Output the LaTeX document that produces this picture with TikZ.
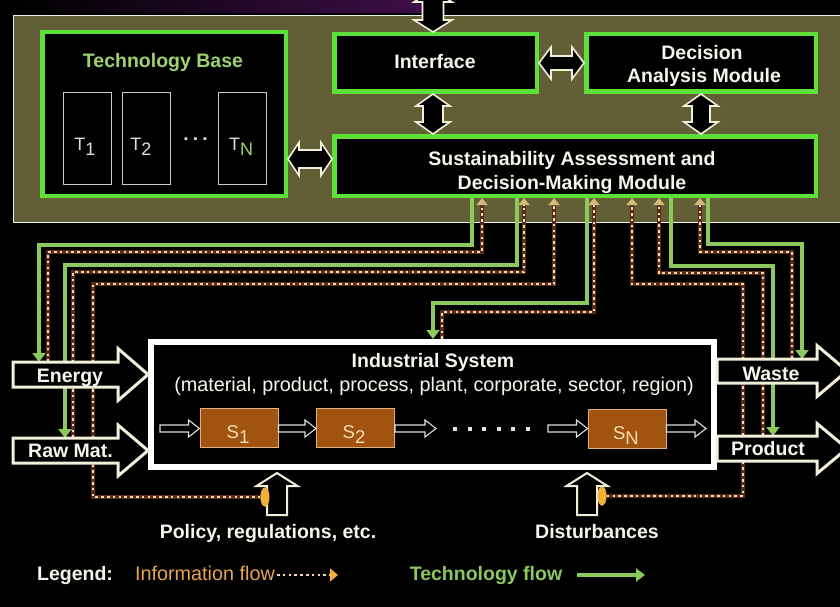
\documentclass[tikz,border=0pt]{standalone}
\usepackage{fontspec}
\setmainfont{Liberation Sans}
\usetikzlibrary{arrows.meta,calc,shapes.geometric}
\definecolor{panelbg}{HTML}{625E35}
\definecolor{boxgreen}{HTML}{5EE03A}
\definecolor{techgreen}{HTML}{8CC85C}
\definecolor{infodot}{HTML}{F6D6C2}
\definecolor{infobase}{HTML}{5A2C12}
\definecolor{tipcol}{HTML}{D2B97C}
\definecolor{brownbox}{HTML}{A0540F}
\definecolor{scream}{HTML}{F2F0DA}
\definecolor{titlegreen}{HTML}{9ED270}
\definecolor{legorange}{HTML}{E8A352}
\definecolor{ellcol}{HTML}{F2B03A}
\definecolor{slabel}{HTML}{F7DDB0}
\definecolor{topb}{HTML}{0C0F52}
\definecolor{topp}{HTML}{3E0E48}
\definecolor{txt}{HTML}{F6F6EE}

% vertical double block arrow: #1 top tip, #2 bottom tip, #3 shaft half, #4 head half, #5 head length
\newcommand\vdarr[5]{\draw[barrow] let \p1=(#1), \p2=(#2) in
 (\x1,\y1) -- (\x1+#4pt,\y1-#5pt) -- (\x1+#3pt,\y1-#5pt) -- (\x1+#3pt,\y2+#5pt) -- (\x1+#4pt,\y2+#5pt)
 -- (\x1,\y2) -- (\x1-#4pt,\y2+#5pt) -- (\x1-#3pt,\y2+#5pt) -- (\x1-#3pt,\y1-#5pt) -- (\x1-#4pt,\y1-#5pt) -- cycle;}
% horizontal double block arrow
\newcommand\hdarr[5]{\draw[barrow] let \p1=(#1), \p2=(#2) in
 (\x1,\y1) -- (\x1+#5pt,\y1+#4pt) -- (\x1+#5pt,\y1+#3pt) -- (\x2-#5pt,\y1+#3pt) -- (\x2-#5pt,\y1+#4pt)
 -- (\x2,\y1) -- (\x2-#5pt,\y1-#4pt) -- (\x2-#5pt,\y1-#3pt) -- (\x1+#5pt,\y1-#3pt) -- (\x1+#5pt,\y1-#4pt) -- cycle;}
% small hollow arrow to the right
\newcommand\sarr[2]{\draw[sarrow] let \p1=(#1), \p2=(#2) in
 (\x1,\y1+3.5pt) -- (\x2-11pt,\y1+3.5pt) -- (\x2-11pt,\y1+8.5pt) -- (\x2,\y1) -- (\x2-11pt,\y1-8.5pt) -- (\x2-11pt,\y1-3.5pt) -- (\x1,\y1-3.5pt) -- cycle;}
% big hollow arrow to the right: #1 left end, #2 tip, #3 body half, #4 head half
\newcommand\barr[4]{\draw[bigarrow] let \p1=(#1), \p2=(#2) in
 (\x1,\y1+#3pt) -- (\x2-30pt,\y1+#3pt) -- (\x2-30pt,\y1+#4pt) -- (\x2,\y1) -- (\x2-30pt,\y1-#4pt) -- (\x2-30pt,\y1-#3pt) -- (\x1,\y1-#3pt) -- cycle;}
% big hollow arrow upwards: #1 bottom, #2 tip
\newcommand\uarr[2]{\draw[uparrow] let \p1=(#1), \p2=(#2) in
 (\x1-10pt,\y1) -- (\x1-10pt,\y2-13pt) -- (\x1-20.5pt,\y2-13pt) -- (\x1,\y2) -- (\x1+20.5pt,\y2-13pt) -- (\x1+10pt,\y2-13pt) -- (\x1+10pt,\y1) -- cycle;}
% information flow: dark base + dotted top
\newcommand\infopath[1]{\draw[infobg, shorten >=7pt] #1; \draw[info] #1;}
\newcommand\mysub[1]{\raisebox{-5pt}{#1}}

\begin{document}
\begin{tikzpicture}[x=1pt,y=-1pt,
 greenbox/.style={draw=boxgreen, line width=4.5pt, fill=black, inner sep=0pt},
 tbox/.style={draw=white!80!black, line width=1pt, minimum width=48pt, minimum height=92pt, inner sep=0pt},
 sbox/.style={draw=slabel!70!brownbox, line width=1pt, fill=brownbox, minimum width=78pt, minimum height=39pt, inner sep=0pt},
 lab/.style={font=\bfseries\fontsize{19.5}{22}\selectfont, text=txt, inner sep=0pt, anchor=base},
 reg/.style={font=\fontsize{19.8}{22}\selectfont, text=txt, inner sep=0pt, anchor=base},
 tlab/.style={font=\fontsize{18}{20}\selectfont, text=white!88!black, inner sep=0pt, anchor=base},
 slab/.style={font=\fontsize{18.5}{20}\selectfont, text=slabel, inner sep=0pt, anchor=base},
 tech/.style={draw=techgreen, line width=3.5pt, -{Triangle[width=13pt,length=9pt]}},
 infobg/.style={draw=infobase, line width=3.6pt},
 info/.style={draw=infodot, line width=2.6pt, dash pattern=on 2.6pt off 3.2pt, -{Triangle[width=11pt,length=7pt,color=tipcol]}},
 barrow/.style={draw=scream, fill=black, line width=1.6pt, line join=miter},
 bigarrow/.style={draw=scream, fill=black, line width=3pt, line join=miter},
 uparrow/.style={draw=scream, fill=black, line width=2pt, line join=miter},
 sarrow/.style={draw=white!88!black, fill=black, line width=1.1pt},
 ]
\clip (0,0) rectangle (840,607);
\fill[black] (0,0) rectangle (840,607);
\shade[left color=black, middle color=topb, right color=topp] (15,0) rectangle (425,13);

% upper panel
\node[draw=white!90!panelbg, line width=1.3pt, fill=panelbg, minimum width=860pt, minimum height=207pt, anchor=north west, inner sep=0pt] (panel) at (13,15) {};

% module boxes
\node[greenbox, minimum width=243.5pt, minimum height=163.5pt] (tb) at (164,114) {};
\node[greenbox, minimum width=202.5pt, minimum height=57.5pt] (iface) at (435.5,63) {};
\node[greenbox, minimum width=229.5pt, minimum height=57.5pt] (dam) at (701,63) {};
\node[greenbox, minimum width=481.5pt, minimum height=59.5pt] (sam) at (575,166) {};

\node[lab, text=titlegreen] (tbt) at (163,68) {Technology Base};
\node[lab] (ifl) at (435,69) {Interface};
\node[lab] (daml1) at (702,60) {Decision};
\node[lab] (daml2) at (704,83) {Analysis Module};
\node[lab] (saml1) at (572,165) {Sustainability Assessment and};
\node[lab] (saml2) at (572,189) {Decision-Making Module};

% technologies
\node[tbox] (t1) at (87.5,138.5) {};
\node[tbox] (t2) at (146.5,138.5) {};
\node[tbox] (tn) at (242.5,138.5) {};
\node[tlab] (t1l) at (85,150) {T\mysub{1}};
\node[tlab] (t2l) at (141,150) {T\mysub{2}};
\node[tlab] (tnl) at (241,150) {T\mysub{\textcolor{titlegreen}{N}}};
\node[tlab, font=\bfseries\fontsize{19}{20}\selectfont] (tdots) at (196,146) {·\,·\,·};

% double arrows of the upper panel
\coordinate (ext) at (433,-10);
\vdarr{ext}{ext |- iface.north}{10.5}{19}{12}
\vdarr{iface.south -| ext}{sam.north -| ext}{10}{17}{12}
\vdarr{dam.south}{dam.south |- sam.north}{9}{17}{12}
\hdarr{iface.east}{dam.west |- iface.east}{7}{16}{12}
\coordinate (tbs) at (288,159);
\hdarr{tb.east |- tbs}{sam.west |- tbs}{9}{16.5}{11}

% end points of the flows
\coordinate (mE) at (472,198);  \coordinate (mEi) at (482,198);
\coordinate (mR) at (517,198);  \coordinate (mRi) at (524,198);
\coordinate (mPi) at (554,198);
\coordinate (mI) at (587,198);  \coordinate (mIi) at (594,198);
\coordinate (mDi) at (632,198);
\coordinate (mPri) at (659,198); \coordinate (mPr) at (671,198);
\coordinate (mWi) at (700,198);  \coordinate (mW) at (708,198);
\coordinate (tE) at (39,362);   \coordinate (sE) at (48,362);
\coordinate (tR) at (65,438);   \coordinate (sR) at (73,438);
\coordinate (tI) at (433,339);  \coordinate (sI) at (442,339);
\coordinate (tPr) at (773,436); \coordinate (sPr) at (763,436);
\coordinate (tW) at (802,359);  \coordinate (sW) at (792,359);

\node[ellipse, fill=ellcol, minimum width=9pt, minimum height=19pt, inner sep=0pt] (pole) at (265,497) {};
\node[ellipse, fill=ellcol, minimum width=9pt, minimum height=19pt, inner sep=0pt] (dise) at (602,496) {};

% information flows
\infopath{(sE) -- ++(0,-110) -| (mEi)}
\infopath{(sR) -- ++(0,-166) -| (mRi)}
\infopath{(pole.west) -| (93,284) -| (mPi)}
\infopath{(sI) -- ++(0,-27) -| (mIi)}
\infopath{(dise.east) -| (743,284) -| (mDi)}
\infopath{(sPr) -- ++(0,-163) -| (mPri)}
\infopath{(sW) -- ++(0,-107) -| (mWi)}

% technology flows
\draw[tech] (mE) -- ++(0,47) -| (tE);
\draw[tech] (mR) -- ++(0,67) -| (tR);
\draw[tech] (mI) -- ++(0,105) -| (tI);
\draw[tech] (mPr) -- ++(0,68) -| (tPr);
\draw[tech] (mW) -- ++(0,46) -| (tW);

% industrial system
\node[draw=white, line width=6pt, fill=black, minimum width=563pt, minimum height=125pt, inner sep=0pt] (ind) at (432.5,404.5) {};
\node[lab] (indl1) at (433,367) {Industrial System};
\node[reg] (indl2) at (434,391) {(material, product, process, plant, corporate, sector, region)};

% inputs and outputs
\coordinate (eL) at (13,374.5);  \coordinate (eT) at (148,374.5);
\coordinate (rL) at (13,450.5);  \coordinate (rT) at (148,450.5);
\coordinate (wL) at (717,371);   \coordinate (wT) at (847,371);
\coordinate (pL) at (717,448.5); \coordinate (pT) at (847,448.5);
\barr{eL}{eT}{12.5}{26}
\barr{rL}{rT}{12.5}{25.5}
\barr{wL}{wT}{12}{25.5}
\barr{pL}{pT}{12.5}{25}
\node[lab] (energy) at (70,382) {Energy};
\node[lab] (rawmat) at (70.5,457) {Raw Mat.};
\node[lab] (waste) at (771,380) {Waste};
\node[lab] (product) at (768,455) {Product};

% stages
\node[sbox] (s1) at (239,428) {};
\node[sbox] (s2) at (355.5,428) {};
\node[sbox] (sn) at (627,429) {};
\node[slab] (s1l) at (238,438) {S\mysub{1}};
\node[slab] (s2l) at (354,438) {S\mysub{2}};
\node[slab] (snl) at (626,439) {S\mysub{N}};
\coordinate (in0) at (160,428.5);
\coordinate (out2) at (436,428.5);
\coordinate (inN) at (548,428.5);
\coordinate (outN) at (706,428.5);
\sarr{in0}{s1.west |- in0}
\sarr{s1.east |- in0}{s2.west |- in0}
\sarr{s2.east |- in0}{out2}
\sarr{inN}{sn.west |- inN}
\sarr{sn.east |- inN}{outN}
\foreach \k [count=\i] in {455,469.5,484,498.5,513,527.5}
  \node[fill=white!90!black, minimum size=4pt, inner sep=0pt] (dot\i) at (\k,429) {};

% policy and disturbances
\coordinate (polb) at (277,515);
\coordinate (disb) at (587,515);
\uarr{polb}{$(polb |- ind.south)+(0,3)$}
\uarr{disb}{$(disb |- ind.south)+(0,3)$}
\node[ellipse, fill=ellcol, minimum width=9pt, minimum height=19pt, inner sep=0pt] at (pole) {};
\node[ellipse, fill=ellcol, minimum width=9pt, minimum height=19pt, inner sep=0pt] at (dise) {};
\node[lab] (policy) at (268,538) {Policy, regulations, etc.};
\node[lab] (dist) at (597,538) {Disturbances};

% legend
\node[lab] (legend) at (75,580) {Legend:};
\node[reg, text=legorange] (infoleg) at (205,580) {Information flow};
\coordinate (il1) at (277,575); \coordinate (il2) at (338,575);
\draw[draw=infodot, line width=2.6pt, dash pattern=on 2.6pt off 3.2pt, -{Triangle[width=13pt,length=8pt,color=ellcol]}] (il1) -- (il2);
\node[lab, text=techgreen] (techleg) at (486,580) {Technology flow};
\coordinate (tl1) at (577,575); \coordinate (tl2) at (645,575);
\draw[tech] (tl1) -- (tl2);
\end{tikzpicture}
\end{document}
